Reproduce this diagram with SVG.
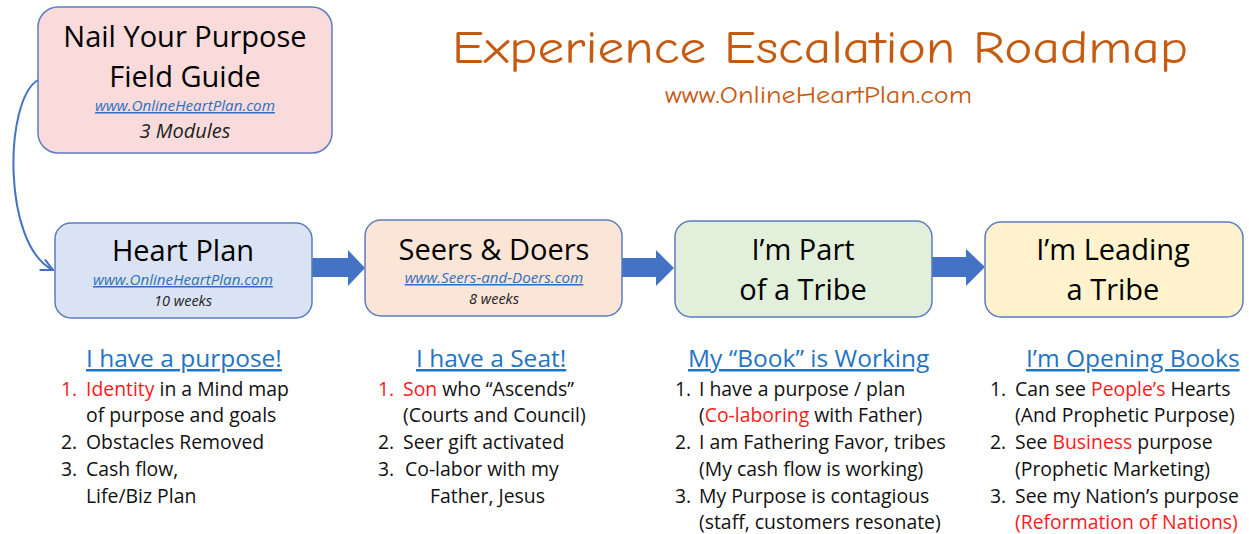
<svg xmlns="http://www.w3.org/2000/svg" width="1249" height="534" viewBox="0 0 1249 534">
<defs>
<style>
.box{stroke:#5B7DBF;stroke-width:1.5}
.t{font-family:"Open Sans","Liberation Sans",sans-serif;fill:#000;font-size:29px}
.big{text-anchor:middle}
.url{font-family:"Open Sans","Liberation Sans",sans-serif;font-size:15.2px;font-style:italic;fill:#2E6FC0;text-decoration:underline;text-anchor:middle}
.sub{font-family:"Open Sans","Liberation Sans",sans-serif;font-style:italic;fill:#222;text-anchor:middle}
.hd{font-family:"Open Sans","Liberation Sans",sans-serif;font-size:24.5px;fill:#1F74C4;text-decoration:underline}
.li{font-family:"Open Sans","Liberation Sans",sans-serif;font-size:19.4px;fill:#111}
.red{fill:#FF1A1A}
.blk{fill:#4472C4}
.hand{font-family:"Comic Neue","Lato","Liberation Sans",sans-serif;fill:#C55A11}
</style>
<marker id="ah" viewBox="0 0 14 14" refX="13" refY="7" markerWidth="14" markerHeight="14" markerUnits="userSpaceOnUse" orient="auto">
<path d="M1,1 L13,7 L1,13" fill="none" stroke="#4472C4" stroke-width="2"/>
</marker>
</defs>
<rect width="1249" height="534" fill="#fff"/>

<g id="title">
<text class="hand" x="452" y="63" font-size="46" textLength="736" lengthAdjust="spacingAndGlyphs">Experience Escalation Roadmap</text>
<text class="hand" x="665" y="103" font-size="25" textLength="307" lengthAdjust="spacingAndGlyphs">www.OnlineHeartPlan.com</text>
</g>

<g id="connectors">
<path d="M38,80 C4,100 2,245 53,270" fill="none" stroke="#4472C4" stroke-width="2" marker-end="url(#ah)"/>
<path class="blk" d="M312,258 H348 V250 L365,268 L348,286 V277 H312 Z"/>
<path class="blk" d="M622,258 H656 V250 L674,268 L656,286 V277 H622 Z"/>
<path class="blk" d="M932,257 H966 V249 L985,267 L966,286 V277 H932 Z"/>
</g>

<g id="node-field-guide">
<rect class="box" x="38" y="7" width="294" height="146" rx="20" fill="#F9DBDB"/>
<text class="t big" x="185" y="47" font-size="28.5">Nail Your Purpose</text>
<text class="t big" x="185" y="87" font-size="28.5">Field Guide</text>
<text class="url" x="185" y="111">www.OnlineHeartPlan.com</text>
<text class="sub" x="185" y="138" font-size="20">3 Modules</text>
</g>

<g id="node-heart-plan">
<rect class="box" x="55" y="223" width="257" height="95" rx="16" fill="#DAE3F3"/>
<text class="t big" x="183" y="261">Heart Plan</text>
<text class="url" x="183" y="285">www.OnlineHeartPlan.com</text>
<text class="sub" x="183" y="306" font-size="14.5">10 weeks</text>
</g>

<g id="node-seers-doers">
<rect class="box" x="365" y="220" width="257" height="96" rx="16" fill="#FBE5D6"/>
<text class="t big" x="494" y="260">Seers &amp; Doers</text>
<text class="url" x="494" y="283">www.Seers-and-Doers.com</text>
<text class="sub" x="494" y="304" font-size="14.5">8 weeks</text>
</g>

<g id="node-part-tribe">
<rect class="box" x="675" y="221" width="257" height="96" rx="16" fill="#E2EFDA"/>
<text class="t big" x="803" y="260">I’m Part</text>
<text class="t big" x="803" y="300">of a Tribe</text>
</g>

<g id="node-leading-tribe">
<rect class="box" x="985" y="222" width="258" height="95" rx="16" fill="#FFF2CC"/>
<text class="t big" x="1113" y="260">I’m Leading</text>
<text class="t big" x="1113" y="300">a Tribe</text>
</g>

<g id="list-purpose">
<text class="hd" x="86" y="367">I have a purpose!</text>
<text class="li red" x="61" y="396">1.</text>
<text class="li" x="86" y="396"><tspan class="red">Identity</tspan> in a Mind map</text>
<text class="li" x="86" y="422">of purpose and goals</text>
<text class="li" x="61" y="449">2.</text>
<text class="li" x="86" y="449">Obstacles Removed</text>
<text class="li" x="61" y="476">3.</text>
<text class="li" x="86" y="476">Cash flow,</text>
<text class="li" x="86" y="503">Life/Biz Plan</text>
</g>

<g id="list-seat">
<text class="hd" x="416" y="367">I have a Seat!</text>
<text class="li red" x="378" y="396">1.</text>
<text class="li" x="403" y="396"><tspan class="red">Son</tspan> who “Ascends”</text>
<text class="li" x="403" y="422">(Courts and Council)</text>
<text class="li" x="378" y="449">2.</text>
<text class="li" x="403" y="449">Seer gift activated</text>
<text class="li" x="378" y="476">3.</text>
<text class="li" x="405" y="476">Co-labor with my</text>
<text class="li" x="430" y="503">Father, Jesus</text>
</g>

<g id="list-book">
<text class="hd" x="688" y="367">My “Book” is Working</text>
<text class="li" x="675" y="396">1.</text>
<text class="li" x="699" y="396">I have a purpose / plan</text>
<text class="li" x="699" y="422">(<tspan class="red">Co-laboring</tspan> with Father)</text>
<text class="li" x="675" y="449">2.</text>
<text class="li" x="699" y="449">I am Fathering Favor, tribes</text>
<text class="li" x="699" y="476">(My cash flow is working)</text>
<text class="li" x="675" y="503">3.</text>
<text class="li" x="699" y="503">My Purpose is contagious</text>
<text class="li" x="699" y="529">(staff, customers resonate)</text>
</g>

<g id="list-opening">
<text class="hd" x="1026" y="367">I’m Opening Books</text>
<text class="li" x="990" y="396">1.</text>
<text class="li" x="1015" y="396">Can see <tspan class="red">People’s</tspan> Hearts</text>
<text class="li" x="1015" y="422">(And Prophetic Purpose)</text>
<text class="li" x="990" y="449">2.</text>
<text class="li" x="1015" y="449">See <tspan class="red">Business</tspan> purpose</text>
<text class="li" x="1015" y="476">(Prophetic Marketing)</text>
<text class="li" x="990" y="503">3.</text>
<text class="li" x="1015" y="503">See my Nation’s purpose</text>
<text class="li red" x="1015" y="529">(Reformation of Nations)</text>
</g>
</svg>
